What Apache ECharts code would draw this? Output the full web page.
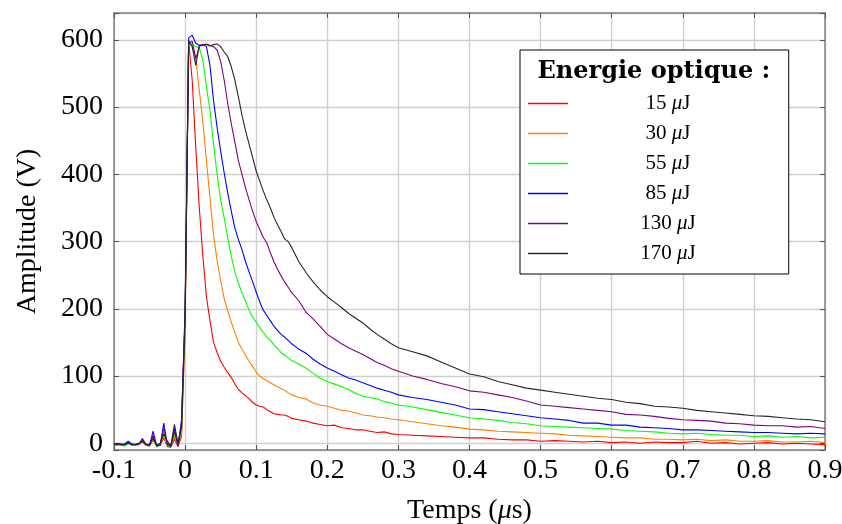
<!DOCTYPE html>
<html><head><meta charset="utf-8">
<script src="https://cdn.jsdelivr.net/npm/echarts@6/dist/echarts.min.js"></script>
<style>html,body{margin:0;padding:0;background:#fff}#c{width:842px;height:524px}</style>
</head><body><div id="c"></div>
<script>
// time axis (µs)
const times = [
  -0.1,-0.095,-0.09,-0.085,-0.08,-0.075,-0.07,-0.065,-0.06,-0.055,-0.05,-0.045,-0.04,-0.035,-0.03,-0.025,-0.02,-0.015,-0.01,-0.005,
  0,0.005,0.01,0.015,0.02,0.025,0.03,0.035,0.04,0.045,0.05,0.055,0.06,0.065,0.07,0.075,0.08,0.085,0.09,0.095,0.1,0.105,0.11,0.115,0.12,0.125,0.13,0.135,0.14,0.145,0.15,
  0.16,0.17,0.18,0.19,0.2,0.21,0.22,0.23,0.24,0.25,0.26,0.27,0.28,0.29,0.3,
  0.32,0.34,0.36,0.38,0.4,0.42,0.44,0.46,0.48,0.5,0.52,0.54,0.56,0.58,0.6,0.62,0.64,0.66,0.68,0.7,0.72,0.74,0.76,0.78,0.8,0.82,0.84,0.86,0.88,0.9
];
const energies = [15, 30, 55, 85, 130, 170];
const e15 = [
  -2,-1,-2,-3,0,-3,-2,-2,2,-3,-4,5,-4,-3,8,-5,-6,6,-5,10,
  170,598,540,440,350,278,218,182,150,135,122,113,105,98,88,80,75,71,66,61,57,55,54,50,47,44,43,42,42,40,37,
  35,33,30,28,26,27,23,22,20,20,18,16,17,14,13,
  12,11,10,9,8,8,6,5,5,3,4,3,2,3,1,2,0,2,1,1,3,0,1,-1,0,1,-1,0,-1,-2
];
const e30 = [
  -2,-2,-1,-3,1,-2,-2,-1,3,-2,-3,8,-4,-2,12,-3,-5,10,-4,15,
  175,600,590,572,525,478,420,365,310,272,242,215,197,180,165,150,140,131,122,114,106,100,96,93,90,87,84,81,79,75,72,
  68,66,60,57,55,52,49,48,45,42,41,39,38,36,35,
  32,29,26,24,21,20,18,17,16,15,14,12,11,10,9,8,8,6,6,5,6,4,5,3,3,4,2,2,3,1
];
const e55 = [
  -4,-3,-3,-4,0,-3,-3,-2,5,-3,-4,10,-5,-3,16,-3,-5,14,-4,22,
  185,598,593,590,588,570,530,495,445,400,362,335,305,278,255,238,224,211,198,188,180,172,165,158,153,146,141,135,131,127,123,
  118,112,104,97,92,88,84,80,74,70,68,66,62,60,57,
  54,50,46,42,38,36,34,31,29,26,25,24,23,22,21,19,18,17,15,14,15,13,12,12,10,11,9,10,8,9
];
const e85 = [
  -1,0,-1,-1,3,-1,-2,-1,7,-2,-3,18,-4,-3,30,-2,-5,22,-4,35,
  200,603,607,595,592,593,590,562,510,470,435,402,372,345,320,303,288,270,255,240,225,210,198,190,182,174,168,162,158,153,148,
  140,134,125,118,112,107,102,97,94,90,86,82,79,76,72,
  68,65,61,57,51,50,47,44,41,38,36,34,30,30,27,27,24,23,22,20,20,19,18,17,16,16,15,14,15,14
];
const e130 = [
  -2,-1,-2,-2,1,-2,-2,0,4,-2,-3,12,-4,-2,22,0,-4,18,-3,28,
  190,595,598,572,590,593,593,592,590,585,568,540,505,475,448,420,400,380,362,345,330,318,306,298,283,270,259,249,240,232,224,
  212,195,185,174,162,155,148,142,137,132,126,120,116,111,107,
  100,95,89,84,78,76,72,68,63,57,55,53,51,49,47,43,42,40,37,35,34,33,30,29,27,26,26,24,25,22
];
const e170 = [
  -2,-1,-2,-2,0,-1,-2,0,3,-1,-2,8,-3,0,14,3,-3,28,0,24,
  190,598,590,562,592,592,594,591,593,594,590,582,575,560,540,515,488,465,445,425,405,390,375,362,350,336,325,315,304,300,291,
  270,254,240,228,218,210,202,193,186,179,170,162,155,148,142,
  136,130,121,112,103,99,92,87,82,79,76,73,70,67,65,61,59,55,54,52,49,47,45,43,41,40,38,36,35,32
];
const yTickLabels = [0, 100, 200, 300, 400, 500, 600];
const legendTitle = 'Energie optique :';

const seriesValues = [e15, e30, e55, e85, e130, e170];
const colors = ['#ff0000', '#ff8000', '#00ff00', '#0000ff', '#800080', '#262626'];
const names = energies.map(e => e + ' μJ');

const FONT = 'Liberation Serif';
const axisLineStyle = {color: '#808080', width: 1.5};
const tickStyle = {color: '#555555', width: 1};
const gridStyle = {color: '#d0d0d0', width: 1.4};

const chart = echarts.init(document.getElementById('c'), null, {renderer: 'canvas'});
chart.setOption({
  animation: false,
  backgroundColor: '#ffffff',
  grid: {left: 114, right: 17, top: 13, bottom: 74, containLabel: false, outerBoundsMode: 'none'},
  xAxis: [{
    type: 'value', min: -0.1, max: 0.9, interval: 0.1, position: 'bottom',
    axisLine: {show: true, onZero: false, lineStyle: axisLineStyle},
    axisTick: {show: true, inside: true, length: 5, lineStyle: tickStyle},
    axisLabel: {color: '#000', fontFamily: FONT, fontSize: 28, margin: 7,
      formatter: v => { const r = Math.round(v * 10) / 10; return r === 0 ? '0' : String(r); }},
    splitLine: {show: true, lineStyle: gridStyle},
    name: 'Temps ({i|μ}s)', nameLocation: 'middle', nameGap: 47,
    nameTextStyle: {color: '#000', fontFamily: FONT, fontSize: 28,
      rich: {i: {fontFamily: FONT, fontSize: 28, fontStyle: 'italic', color: '#000'}}}
  }, {
    type: 'value', min: -0.1, max: 0.9, interval: 0.1, position: 'top',
    axisLine: {show: true, onZero: false, lineStyle: axisLineStyle},
    axisTick: {show: true, inside: true, length: 5, lineStyle: tickStyle},
    axisLabel: {show: false}, splitLine: {show: false}
  }],
  yAxis: [{
    type: 'value', min: -10, max: 640, position: 'left',
    axisLine: {show: true, onZero: false, lineStyle: axisLineStyle},
    axisTick: {show: true, inside: true, length: 5, lineStyle: tickStyle},
    axisLabel: {color: '#000', fontFamily: FONT, fontSize: 28, margin: 11,
      formatter: v => yTickLabels.includes(Math.round(v)) && Math.abs(v - Math.round(v)) < 1e-6 ? String(Math.round(v)) : ''},
    splitLine: {show: true, lineStyle: gridStyle},
    name: 'Amplitude (V)', nameLocation: 'middle', nameGap: 72,
    nameTextStyle: {color: '#000', fontFamily: FONT, fontSize: 28}
  }, {
    type: 'value', min: -10, max: 640, position: 'right',
    axisLine: {show: true, onZero: false, lineStyle: axisLineStyle},
    axisTick: {show: true, inside: true, length: 5, lineStyle: tickStyle},
    axisLabel: {show: false}, splitLine: {show: false}
  }],
  legend: {
    orient: 'vertical', left: 520, top: 50,
    padding: [43, 93, 10, 8],
    itemGap: 9, itemWidth: 40, itemHeight: 1.5, icon: 'rect',
    backgroundColor: '#ffffff', borderColor: '#000000', borderWidth: 1,
    selectedMode: false,
    data: names,
    formatter: name => '{n|' + name.split(' ')[0] + ' }{m|μ}{n|J}',
    textStyle: {width: 190, color: '#000',
      rich: {
        n: {fontFamily: FONT, fontSize: 21, align: 'center', color: '#000'},
        m: {fontFamily: FONT, fontSize: 21, align: 'center', fontStyle: 'italic', color: '#000'}
      }}
  },
  graphic: [{
    type: 'text', x: 654, y: 72, z: 100,
    style: {text: legendTitle, textAlign: 'center', textVerticalAlign: 'middle',
      font: 'bold 24px "DejaVu Serif"', fill: '#000'}
  }],
  series: seriesValues.map((vals, k) => ({
    name: names[k], type: 'line', xAxisIndex: 0, yAxisIndex: 0,
    data: times.map((t, i) => [t, vals[i]]),
    showSymbol: false, symbol: 'none',
    lineStyle: {color: colors[k], width: 1.1},
    itemStyle: {color: colors[k]},
    z: 2 + k
  }))
});
</script>
</body></html>
